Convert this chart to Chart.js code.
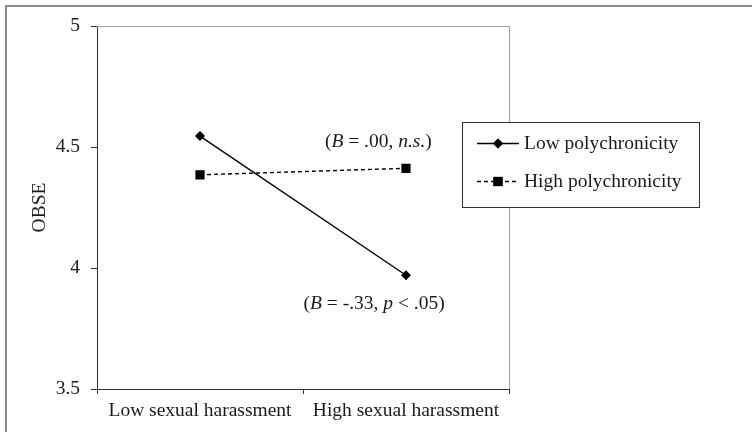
<!DOCTYPE html>
<html>
<head>
<meta charset="utf-8">
<script src="https://cdn.jsdelivr.net/npm/chart.js@4.4.0/dist/chart.umd.min.js"></script>
<style>
  html, body { margin: 0; padding: 0; background: #fff; overflow: hidden; }
  #frame { position: absolute; left: 5px; top: 5px; width: 800px; height: 500px;
           border-top: 2px solid #8a8a8a; border-left: 2px solid #8a8a8a; }
  #c { position: absolute; left: 0; top: 0; }
</style>
</head>
<body>
<div id="frame"></div>
<canvas id="c" width="752" height="432"></canvas>
<script>
const categories = ["Low sexual harassment", "High sexual harassment"];
const seriesNames = ["Low polychronicity", "High polychronicity"];
const lowPoly = [4.545, 3.97];
const highPoly = [4.385, 4.412];
const yTicks = [3.5, 4, 4.5, 5];
// annotation text pieces: [text, italic]
const noteHigh = [["(", 0], ["B", 1], [" = .00, ", 0], ["n.s.", 1], [")", 0]];
const noteLow = [["(", 0], ["B", 1], [" = -.33, ", 0], ["p", 1], [" < .05)", 0]];

const SERIF = "'Liberation Serif', 'Times New Roman', serif";
const FS = 19.5;
const INK = "#1a1a1a";

function richText(ctx, parts, cx, cy) {
  let w = 0;
  parts.forEach(p => {
    ctx.font = (p[1] ? "italic " : "") + FS + "px " + SERIF;
    w += ctx.measureText(p[0]).width;
  });
  let x = cx - w / 2;
  ctx.textBaseline = "middle";
  ctx.textAlign = "left";
  ctx.fillStyle = INK;
  parts.forEach(p => {
    ctx.font = (p[1] ? "italic " : "") + FS + "px " + SERIF;
    ctx.fillText(p[0], x, cy);
    x += ctx.measureText(p[0]).width;
  });
}

const extras = {
  id: "extras",
  afterDatasetsDraw(chart) {
    const ctx = chart.ctx;
    const a = chart.chartArea;
    const xs = chart.scales.x, ys = chart.scales.y;
    ctx.save();
    // light top and right frame of the plot
    ctx.strokeStyle = "#a0a0a0";
    ctx.lineWidth = 1;
    ctx.beginPath();
    ctx.moveTo(a.left, a.top + 0.5);
    ctx.lineTo(a.right + 0.5, a.top + 0.5);
    ctx.lineTo(a.right + 0.5, a.bottom);
    ctx.stroke();

    // annotations
    richText(ctx, noteHigh, xs.getPixelForValue(0.866), ys.getPixelForValue(4.52));
    richText(ctx, noteLow, xs.getPixelForValue(0.845), ys.getPixelForValue(3.85));

    // legend
    const bx = 462, by = 122, bw = 237, bh = 85;
    ctx.fillStyle = "#fff";
    ctx.fillRect(bx, by, bw, bh);
    ctx.strokeStyle = "#333";
    ctx.strokeRect(bx + 0.5, by + 0.5, bw, bh);
    const rows = [143.5, 181.5];
    chart.data.datasets.forEach((ds, i) => {
      const y = rows[i];
      ctx.strokeStyle = "#000";
      ctx.lineWidth = 1.4;
      ctx.setLineDash(ds.borderDash || []);
      ctx.beginPath();
      ctx.moveTo(477, y);
      ctx.lineTo(519, y);
      ctx.stroke();
      ctx.setLineDash([]);
      ctx.fillStyle = "#000";
      Chart.helpers.drawPoint(ctx, { pointStyle: ds.pointStyle, radius: ds.pointRadius, borderWidth: 0 }, 498, y);
      ctx.fill();
      ctx.font = FS + "px " + SERIF;
      ctx.textAlign = "left";
      ctx.textBaseline = "middle";
      ctx.fillStyle = INK;
      ctx.fillText(ds.label, 524, y);
    });
    ctx.restore();
  }
};

new Chart(document.getElementById("c"), {
  type: "line",
  data: {
    labels: categories,
    datasets: [
      {
        label: seriesNames[0],
        data: lowPoly,
        borderColor: "#000",
        backgroundColor: "#000",
        borderWidth: 1.4,
        pointStyle: "rectRot",
        pointRadius: 5,
        pointBorderWidth: 0
      },
      {
        label: seriesNames[1],
        data: highPoly,
        borderColor: "#000",
        backgroundColor: "#000",
        borderWidth: 1.4,
        borderDash: [4, 3],
        pointStyle: "rect",
        pointRadius: 6.5,
        pointBorderWidth: 0
      }
    ]
  },
  options: {
    responsive: false,
    animation: false,
    layout: { padding: { left: 0, top: 26, right: 243, bottom: 0 } },
    plugins: { legend: { display: false }, tooltip: { enabled: false } },
    scales: {
      x: {
        offset: true,
        grid: { drawOnChartArea: false, offset: true, tickLength: 5, color: "#333" },
        border: { color: "#333", width: 1 },
        ticks: { color: INK, padding: 5, maxRotation: 0, font: { family: SERIF, size: FS } },
        afterFit(s) { s.height = 43; }
      },
      y: {
        min: 3.5,
        max: 5,
        afterBuildTicks(s) { s.ticks = yTicks.map(v => ({ value: v })); },
        grid: { drawOnChartArea: false, tickLength: 6, color: "#333" },
        border: { color: "#333", width: 1 },
        ticks: { color: INK, padding: 11, font: { family: SERIF, size: FS },
                 callback: v => String(v) },
        title: { display: true, text: "OBSE", color: INK, padding: { top: 28, bottom: 0 },
                 font: { family: SERIF, size: FS } },
        afterFit(s) { s.width = 97; }
      }
    }
  },
  plugins: [extras]
});
</script>
</body>
</html>
